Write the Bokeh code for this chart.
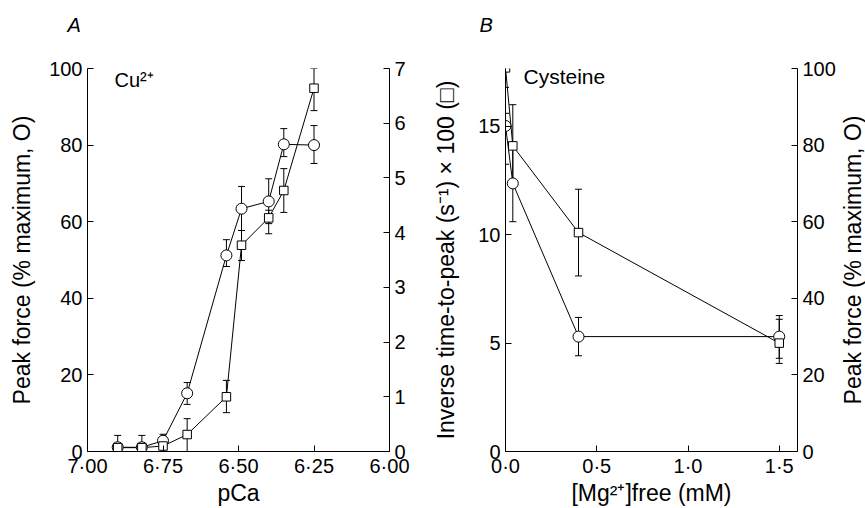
import math
from bokeh.plotting import figure
from bokeh.models import (Range1d, LinearAxis, FixedTicker, Whisker, ColumnDataSource,
                          Label, TeeHead, CustomJSTickFormatter, Title)
from bokeh.layouts import row
from bokeh.embed import file_html
from bokeh.resources import INLINE

FONT = "Liberation Sans"
TITLE_SIZE = "23px"

# ---------------- Panel A data (Cu2+) ----------------
pca = [6.90, 6.82, 6.75, 6.67, 6.54, 6.49, 6.40, 6.35, 6.25]
force_a = [1.1, 1.1, 2.8, 15.2, 51.2, 63.4, 65.3, 80.2, 80.0]
force_a_lo = [0.0, 0.0, 1.0, 12.3, 48.3, 57.7, 59.5, 77.0, 75.2]
force_a_hi = [4.2, 4.2, 4.5, 18.0, 55.3, 69.2, 71.2, 84.3, 85.1]
rate_a = [0.07, 0.07, 0.10, 0.31, 1.00, 3.77, 4.27, 4.77, 6.64]
rate_a_lo = [0.0, 0.0, 0.0, 0.0, 0.71, 3.49, 3.98, 4.37, 6.23]
rate_a_hi = [0.15, 0.15, 0.20, 0.60, 1.30, 4.04, 4.41, 5.17, 7.00]
pca_ticks = [7.0, 6.75, 6.5, 6.25, 6.0]
force_ticks = [0, 20, 40, 60, 80, 100]
rate_a_ticks = [0, 1, 2, 3, 4, 5, 6, 7]

# ---------------- Panel B data (Cysteine) ----------------
mg = [0.0, 0.04, 0.4, 1.5]
rate_b = [17.7, 14.1, 10.1, 5.0]
rate_b_lo = [16.8, 12.2, 8.1, 4.3]
rate_b_hi = [17.7, 16.0, 12.1, 6.1]
force_b = [85.0, 70.0, 30.0, 30.0]
force_b_lo = [75.0, 60.0, 25.0, 23.0]
force_b_hi = [88.3, 80.0, 35.0, 35.5]
mg_ticks = [0.0, 0.5, 1.0, 1.5]
rate_b_ticks = [0, 5, 10, 15]

TOP, BOTTOM, HEIGHT = 68, 57, 508


def style_axis(ax, label_size="20px"):
    ax.major_tick_in = 6
    ax.major_tick_out = 0
    ax.minor_tick_line_color = None
    ax.axis_line_color = "black"
    ax.major_tick_line_color = "black"
    ax.major_label_text_font = FONT
    ax.major_label_text_font_size = label_size
    ax.major_label_text_color = "black"
    ax.major_label_standoff = 5
    ax.axis_label_text_font = FONT
    ax.axis_label_text_font_size = TITLE_SIZE
    ax.axis_label_text_font_style = "normal"
    ax.axis_label_text_color = "black"


def whisker(p, x, lo, hi, range_name=None):
    src = ColumnDataSource(dict(x=x, lo=lo, hi=hi))
    kw = {}
    if range_name:
        kw["y_range_name"] = range_name
    w = Whisker(source=src, base="x", lower="lo", upper="hi", dimension="height",
                line_color="black", line_width=1,
                upper_head=TeeHead(size=7, line_color="black", line_width=1),
                lower_head=TeeHead(size=7, line_color="black", line_width=1), **kw)
    p.add_layout(w)


def panel_letter(p, letter, offset):
    p.add_layout(Title(text=letter + "\n ", align="left", offset=offset, standoff=22,
                       text_font=FONT, text_font_size="20px", text_font_style="italic",
                       text_color="black"), "above")


# ================= Panel A =================
pA = figure(width=430, height=HEIGHT, x_range=Range1d(7.0, 6.0), y_range=Range1d(0, 100),
            output_backend="svg", toolbar_location=None,
            min_border_left=87, min_border_right=41, min_border_top=TOP, min_border_bottom=BOTTOM)
pA.extra_y_ranges = {"rate": Range1d(0, 7)}
pA.grid.visible = False
pA.outline_line_color = None

pA.xaxis.ticker = FixedTicker(ticks=pca_ticks)
pA.xaxis.formatter = CustomJSTickFormatter(code="return tick.toFixed(2).replace('.', '\u00b7');")
pA.xaxis.axis_label = "pCa"
pA.yaxis.ticker = FixedTicker(ticks=force_ticks)
pA.yaxis.axis_label = "Peak force (% maximum, O)"
for ax in pA.xaxis + pA.yaxis:
    style_axis(ax)
pA.xaxis.major_label_standoff = 3
pA.xaxis.axis_label_standoff = 0
pA.yaxis.axis_label_standoff = 11
axA_r = LinearAxis(y_range_name="rate", ticker=FixedTicker(ticks=rate_a_ticks))
style_axis(axA_r)
pA.add_layout(axA_r, "right")

whisker(pA, pca, force_a_lo, force_a_hi)
whisker(pA, pca, rate_a_lo, rate_a_hi, "rate")
pA.line(pca, force_a, line_color="black", line_width=1)
pA.line(pca, rate_a, line_color="black", line_width=1, y_range_name="rate")
pA.scatter(pca, force_a, marker="circle", size=11, fill_color="white", line_color="black")
pA.scatter(pca, rate_a, marker="square", size=8.5, fill_color="white", line_color="black",
           y_range_name="rate")

panel_letter(pA, "A", -20)
pA.add_layout(Label(x=7.0, y=100, x_offset=27, y_offset=-11, text="Cu\u00b2\u207a",
                    text_font=FONT, text_font_size="20px", text_align="left",
                    text_baseline="middle", text_color="black"))

# ================= Panel B =================
pB = figure(width=408, height=HEIGHT, x_range=Range1d(0, 1.6), y_range=Range1d(0, 17.67),
            output_backend="svg", toolbar_location=None,
            min_border_left=71, min_border_right=39, min_border_top=TOP - 1, min_border_bottom=BOTTOM)
pB.extra_y_ranges = {"force": Range1d(0, 100)}
pB.grid.visible = False
pB.outline_line_color = None

pB.xaxis.ticker = FixedTicker(ticks=mg_ticks)
pB.xaxis.formatter = CustomJSTickFormatter(code="return tick.toFixed(1).replace('.', '\u00b7');")
pB.xaxis.axis_label = "[Mg\u00b2\u207a]free (mM)"
pB.yaxis.ticker = FixedTicker(ticks=rate_b_ticks)
pB.yaxis.axis_label = "Inverse time-to-peak (s\u207b\u00b9) \u00d7 100 (\u25a1)"
for ax in pB.xaxis + pB.yaxis:
    style_axis(ax)
pB.xaxis.major_label_standoff = 3
pB.xaxis.axis_label_standoff = 0
pB.yaxis.axis_label_standoff = 16
axB_r = LinearAxis(y_range_name="force", ticker=FixedTicker(ticks=force_ticks))
style_axis(axB_r)
pB.add_layout(axB_r, "right")

whisker(pB, mg, rate_b_lo, rate_b_hi)
whisker(pB, mg, force_b_lo, force_b_hi, "force")
pB.line(mg, rate_b, line_color="black", line_width=1)
pB.line(mg, force_b, line_color="black", line_width=1, y_range_name="force")
pB.scatter(mg, force_b, marker="circle", size=11, fill_color="white", line_color="black",
           y_range_name="force")
pB.scatter(mg, rate_b, marker="square", size=8.5, fill_color="white", line_color="black")

panel_letter(pB, "B", -26)
pB.add_layout(Label(x=0.0, y=17.67, x_offset=18, y_offset=-8, text="Cysteine",
                    text_font=FONT, text_font_size="21px", text_align="left",
                    text_baseline="middle", text_color="black"))

# ====== strip holding panel B's right-hand axis title (reads bottom to top) ======
pC = figure(width=27, height=HEIGHT, x_range=Range1d(0, 1), y_range=Range1d(0, 100),
            output_backend="svg", toolbar_location=None, x_axis_location=None,
            min_border_left=0, min_border_right=0, min_border_top=TOP - 1, min_border_bottom=BOTTOM)
pC.grid.visible = False
pC.outline_line_color = None
pC.yaxis.ticker = FixedTicker(ticks=[])
pC.yaxis.axis_line_color = None
pC.yaxis.major_tick_line_color = None
pC.yaxis.minor_tick_line_color = None
pC.yaxis.major_label_text_font_size = "0px"
pC.yaxis.major_label_standoff = 0
pC.yaxis.axis_label = "Peak force (% maximum, O)"
pC.yaxis.axis_label_standoff = 0
pC.yaxis.axis_label_text_font = FONT
pC.yaxis.axis_label_text_font_size = TITLE_SIZE
pC.yaxis.axis_label_text_font_style = "normal"
pC.yaxis.axis_label_text_color = "black"

layout = row(pA, pB, pC)
open("out.html", "w").write(file_html(layout, INLINE))
